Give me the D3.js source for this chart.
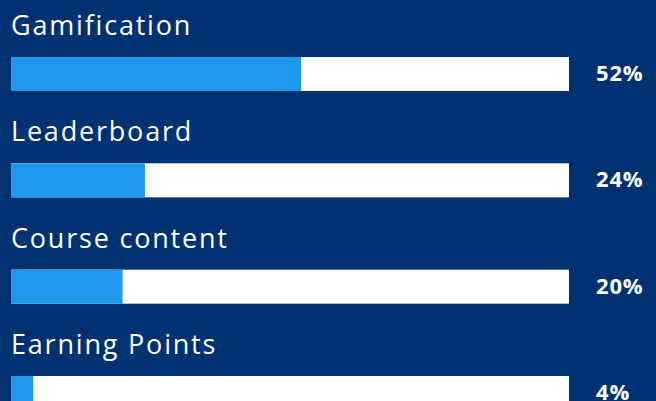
<!DOCTYPE html>
<html>
<head>
<meta charset="utf-8">
<script src="https://cdn.jsdelivr.net/npm/d3@7"></script>
<style>
html,body{margin:0;padding:0;background:#003170;}
svg{display:block;}
</style>
</head>
<body>
<svg id="chart" width="656" height="401"></svg>
<script>
const categories = ["Gamification", "Leaderboard", "Course content", "Earning Points"];
const values = [52, 24, 20, 4];
const valueLabels = ["52%", "24%", "20%", "4%"];

const W = 656, H = 401;
const svg = d3.select("#chart");
svg.append("rect").attr("width", W).attr("height", H).attr("fill", "#003170");

const x = d3.scaleLinear().domain([0, 100]).range([11, 569]);
const y = d3.scalePoint().domain(categories).range([57, 376]);
const barH = 34;

const g = svg.selectAll("g.row").data(categories).join("g").attr("class", "row");

g.append("text")
  .attr("x", 11)
  .attr("y", d => y(d) - 22)
  .attr("fill", "#ffffff")
  .attr("font-family", "'Open Sans', sans-serif")
  .attr("font-size", 27)
  .attr("font-weight", 400)
  .attr("letter-spacing", 1.8)
  .text(d => d);

g.append("rect")
  .attr("x", x(0))
  .attr("y", d => y(d))
  .attr("width", x(100) - x(0))
  .attr("height", barH)
  .attr("fill", "#ffffff");

g.append("rect")
  .attr("x", x(0))
  .attr("y", d => y(d))
  .attr("width", (d, i) => x(values[i]) - x(0))
  .attr("height", barH)
  .attr("fill", "#1e98ec");

g.append("text")
  .attr("x", 596)
  .attr("y", d => y(d) + 24)
  .attr("fill", "#ffffff")
  .attr("font-family", "'Open Sans', sans-serif")
  .attr("font-size", 22)
  .attr("font-weight", 700)
  .attr("letter-spacing", 0.8)
  .text((d, i) => valueLabels[i]);
</script>
</body>
</html>
